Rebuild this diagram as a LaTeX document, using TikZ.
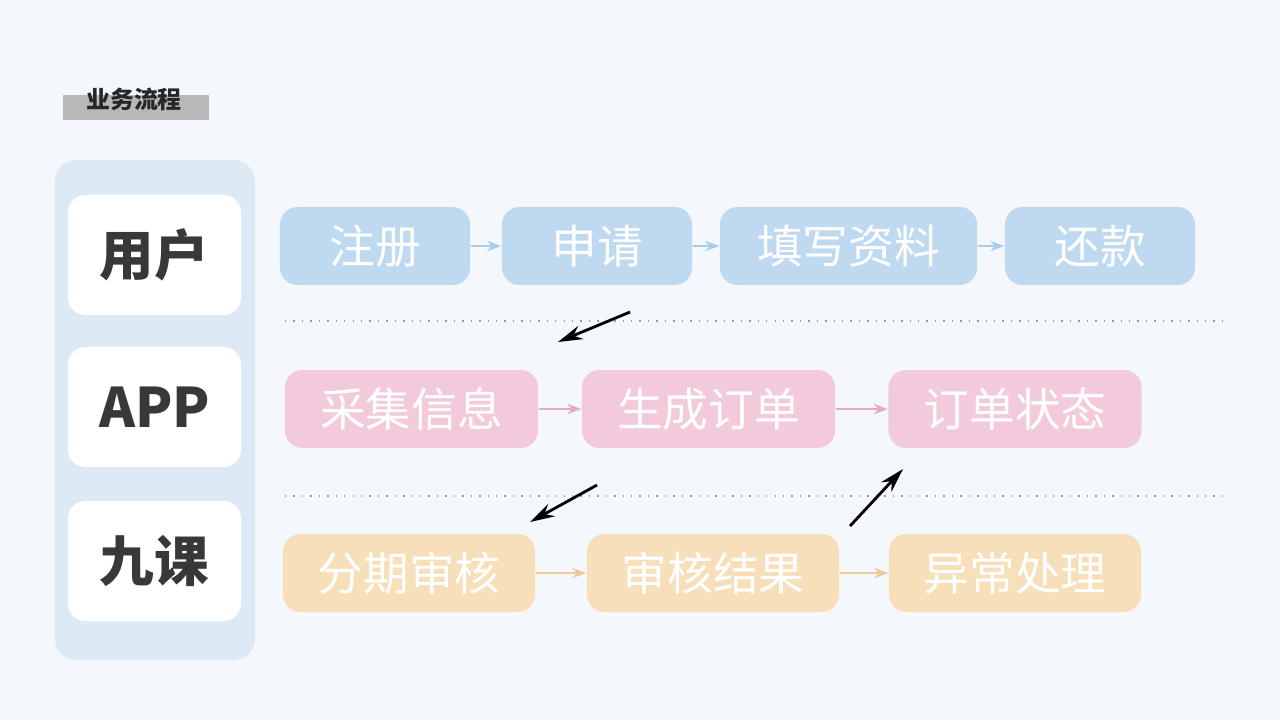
\documentclass[tikz,border=0pt]{standalone}
\usepackage{fontspec}
\setmainfont{Noto Sans CJK SC}
\usetikzlibrary{arrows.meta,positioning}
\definecolor{bg}{HTML}{F4F8FC}
\definecolor{panel}{HTML}{DDE9F5}
\definecolor{ublue}{HTML}{BFD9F0}
\definecolor{apink}{HTML}{F2CADB}
\definecolor{korange}{HTML}{F7DFB9}
\definecolor{ablue}{HTML}{A9CDEB}
\definecolor{apinkar}{HTML}{EBA9C4}
\definecolor{aorange}{HTML}{EFCB98}
\tikzset{
  rolebox/.style={fill=white, rounded corners=5pt, minimum width=1.73cm, minimum height=1.2cm, font=\bfseries\fontsize{15.5}{16}\selectfont, text=black!78},
  stepbox/.style={rounded corners=5pt, minimum height=0.78cm, text=white, font=\fontsize{13}{13}\selectfont},
  flow/.style={-{Stealth[length=4pt]}, thin},
  jump/.style={-{Stealth[length=7pt,width=4pt]}, thick, black},
}
\begin{document}
\begin{tikzpicture}[x=0.01cm,y=-0.01cm]
    \fill[bg] (0,0) rectangle (1280,720);
    % title
    \fill[black!28] (63,95) rectangle (209,120);
    \node[font=\bfseries\fontsize{6.8}{7}\selectfont, text=black!85] (title) at (134,99) {业务流程};
    % roles
    \fill[panel, rounded corners=6pt] (55,160) rectangle (255,660);
    \node[rolebox] (user) at (154.5,255) {用户};
    \node[rolebox] (app) at (154.5,407) {APP};
    \node[rolebox] (jk) at (154.5,561) {九课};
    % separators
    \draw[black!40, dotted] (285,321) -- (1222,321);
    \draw[black!40, dotted] (285,496) -- (1222,496);
    % user row
    \node[stepbox, fill=ublue, minimum width=1.9cm] (reg) at (375,246) {注册};
    \node[stepbox, fill=ublue, minimum width=1.9cm] (apply) at (597,246) {申请};
    \node[stepbox, fill=ublue, minimum width=2.57cm] (fill) at (848.5,246) {填写资料};
    \node[stepbox, fill=ublue, minimum width=1.9cm] (repay) at (1100,246) {还款};
    \foreach \a/\b in {reg/apply, apply/fill, fill/repay}
        \draw[flow, ablue] (\a) -- (\b);
    % app row
    \node[stepbox, fill=apink, minimum width=2.53cm] (collect) at (411.5,409) {采集信息};
    \node[stepbox, fill=apink, minimum width=2.53cm] (order) at (708.5,409) {生成订单};
    \node[stepbox, fill=apink, minimum width=2.53cm] (state) at (1015,409) {订单状态};
    \foreach \a/\b in {collect/order, order/state}
        \draw[flow, apinkar] (\a) -- (\b);
    % jk row
    \node[stepbox, fill=korange, minimum width=2.52cm] (audit) at (409,573) {分期审核};
    \node[stepbox, fill=korange, minimum width=2.52cm] (result) at (713,573) {审核结果};
    \node[stepbox, fill=korange, minimum width=2.52cm] (except) at (1015,573) {异常处理};
    \foreach \a/\b in {audit/result, result/except}
        \draw[flow, aorange] (\a) -- (\b);
    % cross-row jumps
    \coordinate (j1s) at (630,312); \coordinate (j1e) at (558,342);
    \coordinate (j2s) at (597,485); \coordinate (j2e) at (530,522);
    \coordinate (j3s) at (850,526); \coordinate (j3e) at (903,469);
    \draw[jump] (j1s) -- (j1e);
    \draw[jump] (j2s) -- (j2e);
    \draw[jump] (j3s) -- (j3e);
\end{tikzpicture}
\end{document}
